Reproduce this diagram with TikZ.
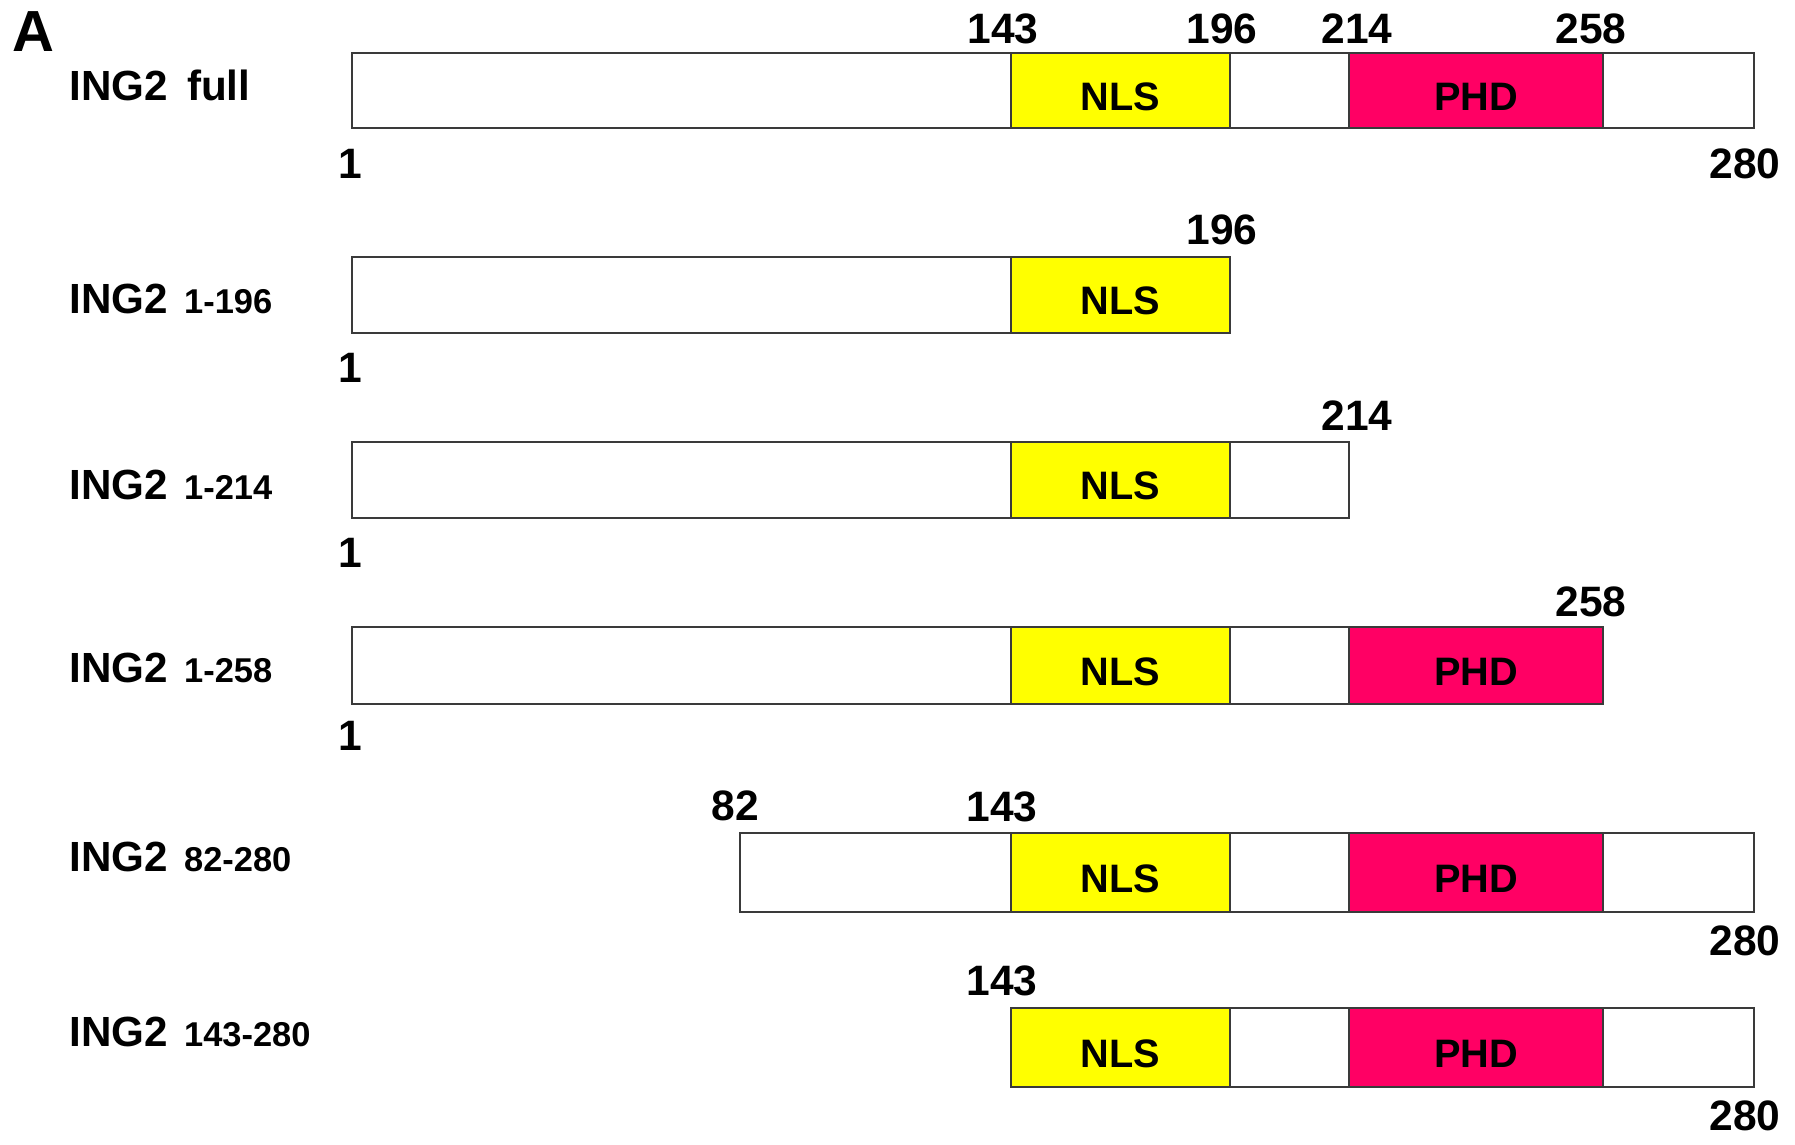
\documentclass[tikz,border=0pt]{standalone}
\usepackage{fontspec}
\setmainfont{Liberation Sans}
\definecolor{nlsyellow}{HTML}{FFFF00}
\definecolor{phdpink}{HTML}{FF0064}
\definecolor{edge}{HTML}{3A3A3A}
\newcommand\numfont{\fontsize{12.1pt}{13pt}\selectfont\bfseries}
\newcommand\labfont{\fontsize{12pt}{13pt}\selectfont\bfseries}
\newcommand\subfont{\fontsize{9.8pt}{10pt}\selectfont\bfseries}
\newcommand\domfont{\fontsize{11.3pt}{12pt}\selectfont\bfseries}
% \segbox{name}{x1}{x2}{ytop}{ybot}{fill}{text}
\newcommand\segbox[7]{%
  \node[segment, fill=#6, minimum width={(#3-#2)*0.1mm}, minimum height={(#5-#4)*0.1mm}] (#1) at (#2,#4) {\raisebox{-1.95mm}[0pt][0pt]{#7}};}
\begin{document}
\begin{tikzpicture}[x=0.1mm,y=-0.1mm,
  segment/.style={draw=edge, line width=0.25mm, inner sep=0pt, outer sep=0pt, anchor=north west, font=\domfont},
  num/.style={inner sep=0pt, font=\numfont},
  lab/.style={inner sep=0pt, anchor=base west, font=\labfont}]
\useasboundingbox[fill=white] (0,0) rectangle (1795,1144);

\node[inner sep=0pt, font=\fontsize{16.5pt}{17pt}\selectfont\bfseries] (A) at (33,32) {A};

% Row 1: full
\node[lab] (l1) at (69,100) {ING2\hspace{1.9mm}full};
\segbox{r1a}{352}{1011}{53}{128}{white}{}
\segbox{r1n}{1011}{1230}{53}{128}{nlsyellow}{NLS}
\segbox{r1b}{1230}{1349}{53}{128}{white}{}
\segbox{r1p}{1349}{1603}{53}{128}{phdpink}{PHD}
\segbox{r1c}{1603}{1754}{53}{128}{white}{}
\node[num] (n1a) at (1003,29) {143};
\node[num] (n1b) at (1222,29) {196};
\node[num] (n1c) at (1357,29) {214};
\node[num] (n1d) at (1591,29) {258};
\node[num] (n1e) at (350,164) {1};
\node[num] (n1f) at (1745,164) {280};

% Row 2: 1-196
\node[lab] (l2) at (69,313) {ING2\hspace{1.6mm}{\subfont 1-196}};
\segbox{r2a}{352}{1011}{257}{333}{white}{}
\segbox{r2n}{1011}{1230}{257}{333}{nlsyellow}{NLS}
\node[num] (n2a) at (1222,230) {196};
\node[num] (n2b) at (350,368) {1};

% Row 3: 1-214
\node[lab] (l3) at (69,499) {ING2\hspace{1.6mm}{\subfont 1-214}};
\segbox{r3a}{352}{1011}{442}{518}{white}{}
\segbox{r3n}{1011}{1230}{442}{518}{nlsyellow}{NLS}
\segbox{r3b}{1230}{1349}{442}{518}{white}{}
\node[num] (n3a) at (1357,416) {214};
\node[num] (n3b) at (350,553) {1};

% Row 4: 1-258
\node[lab] (l4) at (69,682) {ING2\hspace{1.6mm}{\subfont 1-258}};
\segbox{r4a}{352}{1011}{627}{704}{white}{}
\segbox{r4n}{1011}{1230}{627}{704}{nlsyellow}{NLS}
\segbox{r4b}{1230}{1349}{627}{704}{white}{}
\segbox{r4p}{1349}{1603}{627}{704}{phdpink}{PHD}
\node[num] (n4a) at (1591,602) {258};
\node[num] (n4b) at (350,736) {1};

% Row 5: 82-280
\node[lab] (l5) at (69,871) {ING2\hspace{1.6mm}{\subfont 82-280}};
\segbox{r5a}{740}{1011}{833}{912}{white}{}
\segbox{r5n}{1011}{1230}{833}{912}{nlsyellow}{NLS}
\segbox{r5b}{1230}{1349}{833}{912}{white}{}
\segbox{r5p}{1349}{1603}{833}{912}{phdpink}{PHD}
\segbox{r5c}{1603}{1754}{833}{912}{white}{}
\node[num] (n5a) at (735,806) {82};
\node[num] (n5b) at (1002,807) {143};
\node[num] (n5c) at (1745,941) {280};

% Row 6: 143-280
\node[lab] (l6) at (69,1046) {ING2\hspace{1.6mm}{\subfont 143-280}};
\segbox{r6n}{1011}{1230}{1008}{1087}{nlsyellow}{NLS}
\segbox{r6b}{1230}{1349}{1008}{1087}{white}{}
\segbox{r6p}{1349}{1603}{1008}{1087}{phdpink}{PHD}
\segbox{r6c}{1603}{1754}{1008}{1087}{white}{}
\node[num] (n6a) at (1002,981) {143};
\node[num] (n6b) at (1745,1116) {280};
\end{tikzpicture}
\end{document}
